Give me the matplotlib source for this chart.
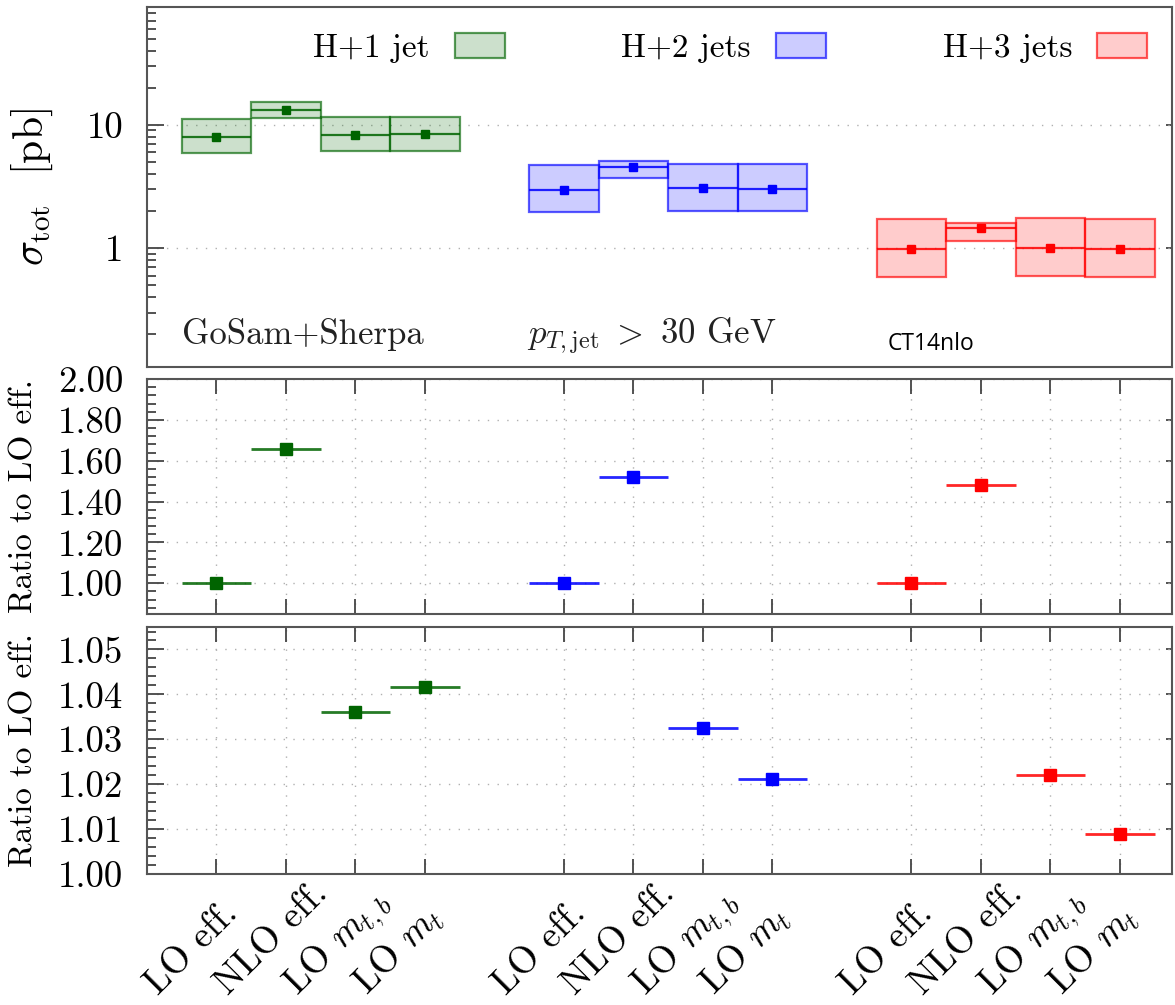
import numpy as np
import matplotlib
matplotlib.use("Agg")
import matplotlib.pyplot as plt
import matplotlib.transforms as mtransforms
from matplotlib.colors import to_rgba
from matplotlib.patches import Patch
from matplotlib.ticker import (FixedLocator, MultipleLocator, LogLocator,
                               NullFormatter, FormatStrFormatter)

plt.rcParams.update({
    "font.family": "cmr10",
    "mathtext.fontset": "cm",
    "axes.formatter.use_mathtext": True,
    "font.size": 24,
})

processes = ["H+1 jet", "H+2 jets", "H+3 jets"]
categories = ["LO eff.", "NLO eff.", r"LO $m_{t,b}$", r"LO $m_t$"]
colors = ["#006400", "#0000ff", "#ff0000"]

# total cross sections [pb], one row per process, columns follow categories
xs_central = [[8.04, 13.3, 8.30, 8.35],
              [2.97, 4.54, 3.08, 3.03],
              [0.98, 1.45, 1.005, 0.99]]
xs_low = [[5.96, 11.3, 6.15, 6.15],
          [1.97, 3.70, 2.02, 2.01],
          [0.582, 1.14, 0.593, 0.585]]
xs_high = [[11.1, 15.4, 11.5, 11.6],
           [4.71, 5.13, 4.85, 4.83],
           [1.74, 1.61, 1.76, 1.74]]

# ratios to LO eff.
ratio_lo = [1.0, 1.0, 1.0]
ratio_nlo = [1.655, 1.52, 1.48]
ratio_mtb = [1.036, 1.0325, 1.022]
ratio_mt = [1.0417, 1.0212, 1.009]

GRID = dict(color="#b0b0b0", linestyle=(0, (1, 6)), linewidth=1.0)
SPINE = "#555555"
TICKFS = 26.5

n_cat = len(categories)
xpos = np.array([[5 * i + j + 1 for j in range(n_cat)] for i in range(len(processes))])
all_x = xpos.ravel()

fig = plt.figure(figsize=(11.75, 10.05), dpi=100)
ax_top = fig.add_axes([0.1251, 0.6348, 0.8723, 0.3582])
ax_mid = fig.add_axes([0.1251, 0.3891, 0.8723, 0.2338])
ax_bot = fig.add_axes([0.1251, 0.1303, 0.8723, 0.2458])


def style_axis(ax):
    for sp in ax.spines.values():
        sp.set_color(SPINE)
        sp.set_linewidth(1.5)
    ax.set_xlim(0, 14.75)
    ax.tick_params(axis="y", which="major", direction="in", length=12,
                   width=1.3, color="#444444", pad=17, left=True, right=False,
                   labelsize=TICKFS)
    ax.tick_params(axis="y", which="minor", direction="in", length=6.5,
                   width=1.3, color="#444444", left=True, right=False)
    sec = ax.secondary_yaxis("right")
    sec.tick_params(axis="y", which="major", direction="in", length=4,
                    width=1.3, color="#444444", labelright=False)
    sec.tick_params(axis="y", which="minor", length=0)
    sec.spines["right"].set_visible(False)
    return sec


# ---- top panel: cross sections with scale bands
sec_top = style_axis(ax_top)
ax_top.set_yscale("log")
ax_top.set_ylim(0.109, 90)
ax_top.yaxis.set_major_locator(FixedLocator([1, 10]))
ax_top.yaxis.set_major_formatter(FormatStrFormatter("%g"))
ax_top.yaxis.set_minor_locator(LogLocator(base=10, subs=np.arange(2, 10)))
ax_top.yaxis.set_minor_formatter(NullFormatter())
sec_top.yaxis.set_major_locator(FixedLocator([1, 10]))
ax_top.set_xticks([])
ax_top.grid(axis="y", which="major", **GRID)
ax_top.set_axisbelow(True)

handles = []
for i, proc in enumerate(processes):
    c = colors[i]
    x = xpos[i]
    lo = np.array(xs_low[i])
    hi = np.array(xs_high[i])
    cen = np.array(xs_central[i])
    ax_top.bar(x, hi - lo, bottom=lo, width=1.0,
               facecolor=to_rgba(c, 0.2), edgecolor=to_rgba(c, 0.65),
               linewidth=1.6, zorder=2)
    ax_top.hlines(cen, x - 0.5, x + 0.5, colors=[to_rgba(c, 0.85)],
                  linewidth=1.6, zorder=3)
    ax_top.plot(x, cen, "s", color=c, ms=6, zorder=4)
    handles.append(Patch(facecolor=to_rgba(c, 0.2),
                         edgecolor=to_rgba(c, 0.65), linewidth=1.6,
                         label=proc))

ax_top.legend(handles=handles, loc="center", bbox_to_anchor=(0.569, 0.886),
              ncol=3, frameon=False, markerfirst=False, fontsize=24,
              handlelength=1.5, handleheight=0.8, handletextpad=0.75,
              columnspacing=3.5)

ax_top.set_ylabel(r"$\sigma_{\mathrm{tot}}$  [pb]", fontsize=30)
ax_top.yaxis.set_label_coords(-0.090, 0.5)

ax_top.text(0.034, 0.064, "GoSam+Sherpa", transform=ax_top.transAxes,
            fontsize=25, color="#222222")
ax_top.text(0.371, 0.064, r"$p_{T,\mathrm{jet}}\ >\ 30$ GeV",
            transform=ax_top.transAxes, fontsize=25, color="#222222")
ax_top.text(0.723, 0.047, "CT14nlo", transform=ax_top.transAxes,
            fontsize=16.5, family="Open Sans", color="black")


# ---- ratio panels
def ratio_panel(ax, ylim, major, minor, series):
    sec = style_axis(ax)
    ax.set_ylim(*ylim)
    ax.yaxis.set_major_locator(MultipleLocator(major))
    ax.yaxis.set_minor_locator(MultipleLocator(minor))
    ax.yaxis.set_major_formatter(FormatStrFormatter("%.2f"))
    sec.yaxis.set_major_locator(MultipleLocator(major))
    ax.set_xticks(all_x)
    ax.tick_params(axis="x", which="major", direction="in", length=11,
                   width=1.3, color="#444444", top=True, bottom=True)
    ax.tick_params(axis="x", which="minor", length=0)
    ax.grid(axis="both", which="major", **GRID)
    ax.set_axisbelow(True)
    for col, values in series:
        for i in range(len(processes)):
            c = colors[i]
            ax.errorbar(xpos[i][col], values[i], xerr=0.5, fmt="none",
                        ecolor=to_rgba(c, 0.85), elinewidth=2.0, capsize=0,
                        zorder=3)
            ax.plot(xpos[i][col], values[i], "s", color=c, ms=9, zorder=4)
    ax.set_ylabel("Ratio to LO eff.", fontsize=24)
    ax.yaxis.set_label_coords(-0.106, 0.5)


ratio_panel(ax_mid, (0.85, 2.0), 0.2, 0.04, [(0, ratio_lo), (1, ratio_nlo)])
ax_mid.set_xticklabels([])

ratio_panel(ax_bot, (1.0, 1.055), 0.01, 0.002, [(2, ratio_mtb), (3, ratio_mt)])
ax_bot.set_xticklabels(categories * len(processes), fontsize=27)
ax_bot.tick_params(axis="x", pad=88)
# labels start below-left of their tick and run up to the right
shift = mtransforms.ScaledTranslation(-0.58, 0, fig.dpi_scale_trans)
for lab in ax_bot.get_xticklabels():
    lab.set_rotation(45)
    lab.set_rotation_mode("anchor")
    lab.set_ha("left")
    lab.set_va("baseline")
    lab.set_transform(lab.get_transform() + shift)

fig.savefig("out.png", dpi=100)
plt.close(fig)
